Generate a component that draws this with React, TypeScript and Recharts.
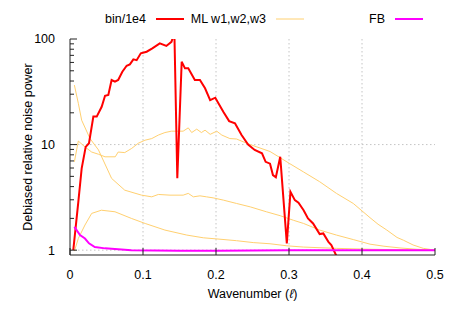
import { LineChart, Line, XAxis, YAxis, CartesianGrid, Legend } from 'recharts';

// bin/1e4 (red)
const binX = [0.0045, 0.0114, 0.016, 0.0215, 0.026, 0.032, 0.0366, 0.0434, 0.048, 0.0525, 0.057, 0.0616, 0.066, 0.0717, 0.0776, 0.082, 0.0868, 0.0913, 0.097, 0.105, 0.1128, 0.123, 0.132, 0.139, 0.143, 0.147, 0.153, 0.1575, 0.162, 0.171, 0.178, 0.185, 0.192, 0.199, 0.21, 0.218, 0.226, 0.235, 0.244, 0.253, 0.263, 0.268, 0.274, 0.278, 0.282, 0.288, 0.297, 0.302, 0.308, 0.313, 0.32, 0.326, 0.333, 0.342, 0.347, 0.354, 0.358, 0.366];
const binY = [1.0, 2.87, 5.95, 9.5, 10.3, 18.4, 18.4, 22.8, 29, 29.5, 40.9, 39.5, 40.9, 49, 55.8, 57.5, 64.2, 63, 73.2, 75.8, 81.6, 91, 86, 94, 115, 4.8, 61, 52.7, 52.7, 40.9, 40.9, 34.1, 26.4, 27.8, 20.5, 16.7, 15.9, 12.3, 10.0, 8.9, 8.27, 6.87, 6.6, 5.14, 4.9, 7.66, 1.16, 3.57, 2.98, 2.81, 2.39, 2.0, 1.79, 1.42, 1.44, 1.2, 1.12, 0.85];

// ML w1 (upper yellow)
const w1X = [0.006, 0.0114, 0.0205, 0.0297, 0.039, 0.048, 0.062, 0.066, 0.075, 0.0845, 0.0936, 0.1027, 0.112, 0.121, 0.13, 0.139, 0.155, 0.162, 0.1667, 0.1736, 0.18, 0.185, 0.192, 0.201, 0.208, 0.219, 0.228, 0.242, 0.256, 0.274, 0.288, 0.301, 0.32, 0.342, 0.365, 0.388, 0.411, 0.422, 0.434, 0.448, 0.457, 0.47, 0.484, 0.5];
const w1Y = [6.87, 10.8, 9.5, 8.5, 8.1, 7.66, 7.66, 8.5, 8.4, 9.2, 10.3, 11, 11.4, 12.3, 13, 13.4, 13.4, 14.4, 13, 14, 13, 13.7, 12.5, 13.4, 12.3, 11.4, 11.3, 10.3, 9.5, 8.6, 7.5, 6.6, 5.5, 4.45, 3.45, 2.77, 2.03, 1.76, 1.55, 1.32, 1.24, 1.12, 1.04, 1.0];

// ML w2 (middle yellow)
const w2X = [0.006, 0.0114, 0.016, 0.0274, 0.039, 0.057, 0.075, 0.098, 0.112, 0.121, 0.137, 0.155, 0.162, 0.169, 0.178, 0.187, 0.196, 0.21, 0.228, 0.247, 0.269, 0.288, 0.306, 0.32, 0.342, 0.365, 0.388, 0.411, 0.43, 0.452, 0.475, 0.5];
const w2Y = [36.6, 24.6, 17, 11.4, 8.9, 4.78, 3.7, 3.32, 3.2, 3.37, 3.32, 3.32, 3.45, 3.2, 3.27, 3.2, 3.13, 2.98, 2.77, 2.57, 2.31, 2.12, 1.92, 1.79, 1.55, 1.39, 1.26, 1.14, 1.09, 1.05, 1.02, 1.0];

// ML w3 (lower yellow)
const w3X = [0.006, 0.0114, 0.0205, 0.0297, 0.043, 0.0616, 0.084, 0.103, 0.13, 0.16, 0.1826, 0.2055, 0.228, 0.251, 0.274, 0.297, 0.32, 0.365, 0.411, 0.45, 0.5];
const w3Y = [0.98, 1.29, 1.73, 2.23, 2.39, 2.31, 2.0, 1.79, 1.55, 1.39, 1.31, 1.27, 1.23, 1.18, 1.15, 1.1, 1.07, 1.04, 1.02, 1.01, 1.0];

// FB (magenta)
const fbX = [0.006, 0.0137, 0.0205, 0.026, 0.034, 0.048, 0.084, 0.15, 0.2, 0.3, 0.4, 0.5];
const fbY = [1.66, 1.39, 1.29, 1.16, 1.07, 1.04, 1.0, 0.99, 0.99, 1.0, 1.0, 1.0];

const xTicks = [0, 0.1, 0.2, 0.3, 0.4, 0.5];
const yTicks = [1, 2, 3, 4, 5, 6, 7, 8, 9, 10, 20, 30, 40, 50, 60, 70, 80, 90, 100];
const yLabels = [1, 10, 100];

const toPts = (xs: number[], ys: number[]) => xs.map((x, i) => ({ x, y: ys[i] }));

const FONT = '"Liberation Sans", Arial, sans-serif';
const AXIS = '#222';
const YELLOW = '#ffd070';

const LeftTick = (props: any) => {
  const { x, y, payload } = props;
  const major = yLabels.includes(payload.value);
  return (
    <g>
      <line x1={x} x2={x + (major ? 7 : 4)} y1={y} y2={y} stroke={AXIS} />
      {major && (
        <text x={x - 15} y={y} dy="0.35em" textAnchor="end" fontSize={12.5} fontFamily={FONT} fill="#000">
          {payload.value}
        </text>
      )}
    </g>
  );
};

const RightTick = (props: any) => {
  const { x, y, payload } = props;
  const major = yLabels.includes(payload.value);
  return <line x1={x} x2={x - (major ? 7 : 4)} y1={y} y2={y} stroke={AXIS} />;
};

const BottomTick = (props: any) => {
  const { x, y, payload } = props;
  return (
    <g>
      <line x1={x} x2={x} y1={y} y2={y - 7} stroke={AXIS} />
      <text x={x} y={y + 20} dy="0.35em" textAnchor="middle" fontSize={12.5} fontFamily={FONT} fill="#000">
        {payload.value}
      </text>
    </g>
  );
};

const TopTick = (props: any) => {
  const { x, y } = props;
  return <line x1={x} x2={x} y1={y} y2={y + 7} stroke={AXIS} />;
};

const XLabel = (props: any) => {
  const vb = props.viewBox;
  return (
    <text x={vb.x + vb.width / 2} y={vb.y + 39} dy="0.35em" textAnchor="middle" fontSize={12.5} fontFamily={FONT} fill="#000">
      Wavenumber (<tspan fontStyle="italic">ℓ</tspan>)
    </text>
  );
};

const YLabel = (props: any) => {
  const vb = props.viewBox;
  const cx = vb.x + 28;
  const cy = vb.y + vb.height / 2;
  return (
    <text x={cx} y={cy} dy="0.35em" textAnchor="middle" transform={`rotate(-90 ${cx} ${cy})`} fontSize={12.5} fontFamily={FONT} fill="#000">
      Debiased relative noise power
    </text>
  );
};

const legendItems = [
  { label: 'bin/1e4', color: '#ff0000', width: 2, textEnd: 146, lineStart: 156 },
  { label: 'ML w1,w2,w3', color: YELLOW, width: 1, textEnd: 266, lineStart: 276 },
  { label: 'FB', color: '#ff00ff', width: 2, textEnd: 385, lineStart: 395 },
];

const KeyBox = () => (
  <svg width={463} height={32}>
    {legendItems.map((it) => (
      <g key={it.label}>
        <text x={it.textEnd} y={19} dy="0.35em" textAnchor="end" fontSize={12.5} fontFamily={FONT} fill="#000">
          {it.label}
        </text>
        <line x1={it.lineStart} x2={it.lineStart + 28} y1={19} y2={19} stroke={it.color} strokeWidth={it.width} />
      </g>
    ))}
  </svg>
);

export default function App() {
  return (
    <div style={{ position: 'absolute', left: 0, top: 0, background: '#fff' }}>
      <LineChart width={463} height={309} margin={{ top: 39, right: 28, left: 0, bottom: 0 }}>
        <CartesianGrid
          horizontalValues={[1, 10]}
          verticalValues={[0.1, 0.2, 0.3, 0.4]}
          stroke="#c4c4c4"
          strokeDasharray="1.5 2.5"
        />
        <XAxis
          dataKey="x"
          type="number"
          domain={[0, 0.5]}
          ticks={xTicks}
          interval={0}
          height={54}
          tickSize={0}
          tickMargin={0}
          tick={<BottomTick />}
          stroke={AXIS}
          label={<XLabel />}
          allowDataOverflow
        />
        <XAxis
          xAxisId="top"
          orientation="top"
          type="number"
          domain={[0, 0.5]}
          ticks={xTicks}
          interval={0}
          height={0}
          tickSize={0}
          tickMargin={0}
          tick={<TopTick />}
          stroke={AXIS}
        />
        <YAxis
          dataKey="y"
          scale="log"
          type="number"
          domain={[0.9, 100]}
          ticks={yTicks}
          interval={0}
          width={70}
          tickSize={0}
          tickMargin={0}
          tick={<LeftTick />}
          stroke={AXIS}
          label={<YLabel />}
          allowDataOverflow
        />
        <YAxis
          yAxisId="right"
          orientation="right"
          scale="log"
          type="number"
          domain={[0.9, 100]}
          ticks={yTicks}
          interval={0}
          width={0}
          tickSize={0}
          tickMargin={0}
          tick={<RightTick />}
          stroke={AXIS}
          allowDataOverflow
        />
        <Legend
          layout="horizontal"
          verticalAlign="middle"
          align="center"
          wrapperStyle={{ position: 'absolute', top: 0, left: 0, width: 463, height: 32 }}
          content={() => <KeyBox />}
        />
        <Line data={toPts(w1X, w1Y)} dataKey="y" name="ML w1" stroke={YELLOW} strokeWidth={1} dot={false} isAnimationActive={false} />
        <Line data={toPts(w2X, w2Y)} dataKey="y" name="ML w2" stroke={YELLOW} strokeWidth={1} dot={false} isAnimationActive={false} />
        <Line data={toPts(w3X, w3Y)} dataKey="y" name="ML w3" stroke={YELLOW} strokeWidth={1} dot={false} isAnimationActive={false} />
        <Line data={toPts(binX, binY)} dataKey="y" name="bin/1e4" stroke="#ff0000" strokeWidth={2} dot={false} isAnimationActive={false} />
        <Line data={toPts(fbX, fbY)} dataKey="y" name="FB" stroke="#ff00ff" strokeWidth={2} dot={false} isAnimationActive={false} />
      </LineChart>
    </div>
  );
}
